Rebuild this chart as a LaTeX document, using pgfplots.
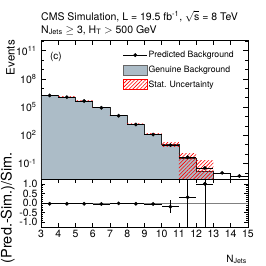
\documentclass[border=0pt]{standalone}
\usepackage{pgfplots}
\pgfplotsset{compat=1.18}
\usetikzlibrary{patterns,patterns.meta}
\usepackage{fontspec}
\setmainfont{TeX Gyre Heros}
\definecolor{genuine}{RGB}{172,188,199}
\begin{document}
\begin{tikzpicture}
\pgfplotsset{
  every axis/.append style={
    scale only axis, width=207pt, xmin=3, xmax=15,
    xtick={3,4,5,6,7,8,9,10,11,12,13,14,15},
    major tick length=5pt, minor tick length=2.5pt,
    tick style={black, line width=0.5pt},
    axis line style={line width=0.6pt},
    ticklabel style={font=\fontsize{10.5}{12}\selectfont},
  },
  hatchbin/.style={forget plot, pattern={Lines[angle=45,distance=2.6pt,line width=0.6pt]}, pattern color=red, draw=none},
}
\begin{axis}[name=top, at={(0pt,0pt)}, anchor=south west,
  height=139pt, ymode=log, ymin=2.24e-3, ymax=1.32e12,
  xticklabels={},
  ytick={1e-1,1e2,1e5,1e8,1e11},
  yticklabels={10\textsuperscript{-1},10\textsuperscript{2},10\textsuperscript{5},10\textsuperscript{8},10\textsuperscript{11}},
  minor ytick={1e-2,1,10,1e3,1e4,1e6,1e7,1e9,1e10,1e12},
  yticklabel style={xshift=-1pt},
  legend style={at={(axis description cs:0.395,0.928)}, anchor=north west,
    draw=none, fill=none, inner sep=0pt, row sep=4.5pt,
    font=\fontsize{8.7}{10}\selectfont,
    nodes={inner sep=1pt}},
  legend cell align=left,
  /tikz/every even column/.append style={column sep=3pt},
]
% Genuine background
\addplot[forget plot, const plot, fill=genuine, draw=black!85, line width=0.5pt] coordinates {
(3,2.24e-3) (3,1.78e6) (4,1.17e6) (5,4.47e5) (6,8.7e4) (7,1.23e4) (8,1.45e3) (9,123) (10,11) (11,0.36) (12,0.0166) (13,0.0166) (13,2.24e-3)};
% stat uncertainty, one box per bin
\addplot[hatchbin] coordinates {(3,1.76e6) (4,1.76e6) (4,1.80e6) (3,1.80e6)};
\addplot[hatchbin] coordinates {(4,1.155e6) (5,1.155e6) (5,1.185e6) (4,1.185e6)};
\addplot[hatchbin] coordinates {(5,4.39e5) (6,4.39e5) (6,4.55e5) (5,4.55e5)};
\addplot[hatchbin] coordinates {(6,8.45e4) (7,8.45e4) (7,8.95e4) (6,8.95e4)};
\addplot[hatchbin] coordinates {(7,1.17e4) (8,1.17e4) (8,1.29e4) (7,1.29e4)};
\addplot[hatchbin] coordinates {(8,1.33e3) (9,1.33e3) (9,1.57e3) (8,1.57e3)};
\addplot[hatchbin] coordinates {(9,108) (10,108) (10,138) (9,138)};
\addplot[hatchbin] coordinates {(10,6.5) (11,6.5) (11,15.5) (10,15.5)};
\addplot[hatchbin] coordinates {(11,2.24e-3) (12,2.24e-3) (12,1.08) (11,1.08)};
\addplot[hatchbin] coordinates {(12,2.24e-3) (13,2.24e-3) (13,0.2066) (12,0.2066)};
% predicted background
\addplot[forget plot, only marks, mark=*, mark size=1.7pt, black,
  error bars/.cd, x dir=both, x explicit, y dir=both, y explicit, error mark=none,
  error bar style={line width=0.6pt}]
  table[x=x, y=y, x error=ex, y error=ey] {
x y ex ey
3.5 1.71e6 0.5 1e4
4.5 1.12e6 0.5 8e3
5.5 4.29e5 0.5 4e3
6.5 8.27e4 0.5 1e3
7.5 1.2e4 0.5 2e2
8.5 1.39e3 0.5 40
9.5 117 0.5 5
10.5 8.9 0.5 1
11.5 0.47 0.5 0.06
12.5 0.033 0.5 0.005
13.5 0.010 0.5 0.002
14.5 0.0047 0.5 0.001
};
\node[anchor=center, font=\fontsize{10}{12}\selectfont] at (axis description cs:0.072,0.877) {(c)};
\addlegendimage{legend image code/.code={\draw[black, line width=0.6pt] (0pt,0pt) -- (24pt,0pt); \fill[black] (12pt,0pt) circle (1.7pt);}}
\addlegendentry{Predicted Background}
\addlegendimage{legend image code/.code={\draw[fill=genuine, draw=black!60] (0pt,-5pt) rectangle (24pt,5pt);}}
\addlegendentry{Genuine Background}
\addlegendimage{legend image code/.code={\draw[red, pattern={Lines[angle=45,distance=2.6pt,line width=0.6pt]}, pattern color=red] (0pt,-5pt) rectangle (24pt,5pt);}}
\addlegendentry{Stat. Uncertainty}
\end{axis}
% titles
\node[anchor=base west, font=\fontsize{10.5}{12}\selectfont, inner sep=0pt] at (0pt,159pt) {CMS Simulation, L = 19.5 fb\textsuperscript{-1}, $\sqrt{\mbox{s}}$ = 8 TeV};
\node[anchor=base west, font=\fontsize{10.5}{12}\selectfont, inner sep=0pt] at (0pt,145.7pt) {N\textsubscript{Jets} $\geq$ 3, H\textsubscript{T} $>$ 500 GeV};
\node[rotate=90, anchor=south east, inner sep=0pt, font=\fontsize{11.5}{13}\selectfont] at (-26pt,139pt) {Events};
\begin{axis}[at={(0pt,0pt)}, anchor=north west,
  height=48pt, ymin=-1.25, ymax=1.25,
  xticklabels={3,4,5,6,7,8,9,10,11,12,13,14,15},
  ytick={-1,-0.5,0,0.5,1},
  yticklabels={-1.0,-0.5,0.0,0.5,1.0},
  minor y tick num=4,
  major tick length=4pt, minor tick length=2pt,
]
\addplot[gray, line width=0.6pt] coordinates {(3,0) (15,0)};
\addplot[only marks, mark=*, mark size=1.7pt, black,
  error bars/.cd, x dir=both, x explicit, y dir=both, y explicit, error mark=none,
  error bar style={line width=0.6pt}]
  table[x=x, y=y, x error=ex, y error=ey] {
x y ex ey
3.5 -0.04 0.5 0.005
4.5 -0.04 0.5 0.005
5.5 -0.04 0.5 0.005
6.5 -0.05 0.5 0.01
7.5 -0.02 0.5 0.01
8.5 -0.04 0.5 0.02
9.5 -0.05 0.5 0.04
10.5 -0.19 0.5 0.35
11.5 0.30 0.5 2.0
12.5 1.00 0.5 2.5
};
\end{axis}
\node[rotate=90, anchor=south east, inner sep=0pt, font=\fontsize{14.5}{16}\selectfont] at (-26pt,27pt) {(Pred.-Sim.)/Sim.};
\node[anchor=base east, inner sep=0pt, font=\fontsize{10}{12}\selectfont] at (206pt,-83pt) {N\textsubscript{Jets}};
\pgfresetboundingbox
\useasboundingbox (-41pt,-87pt) rectangle (225pt,179pt);
\end{tikzpicture}
\end{document}
